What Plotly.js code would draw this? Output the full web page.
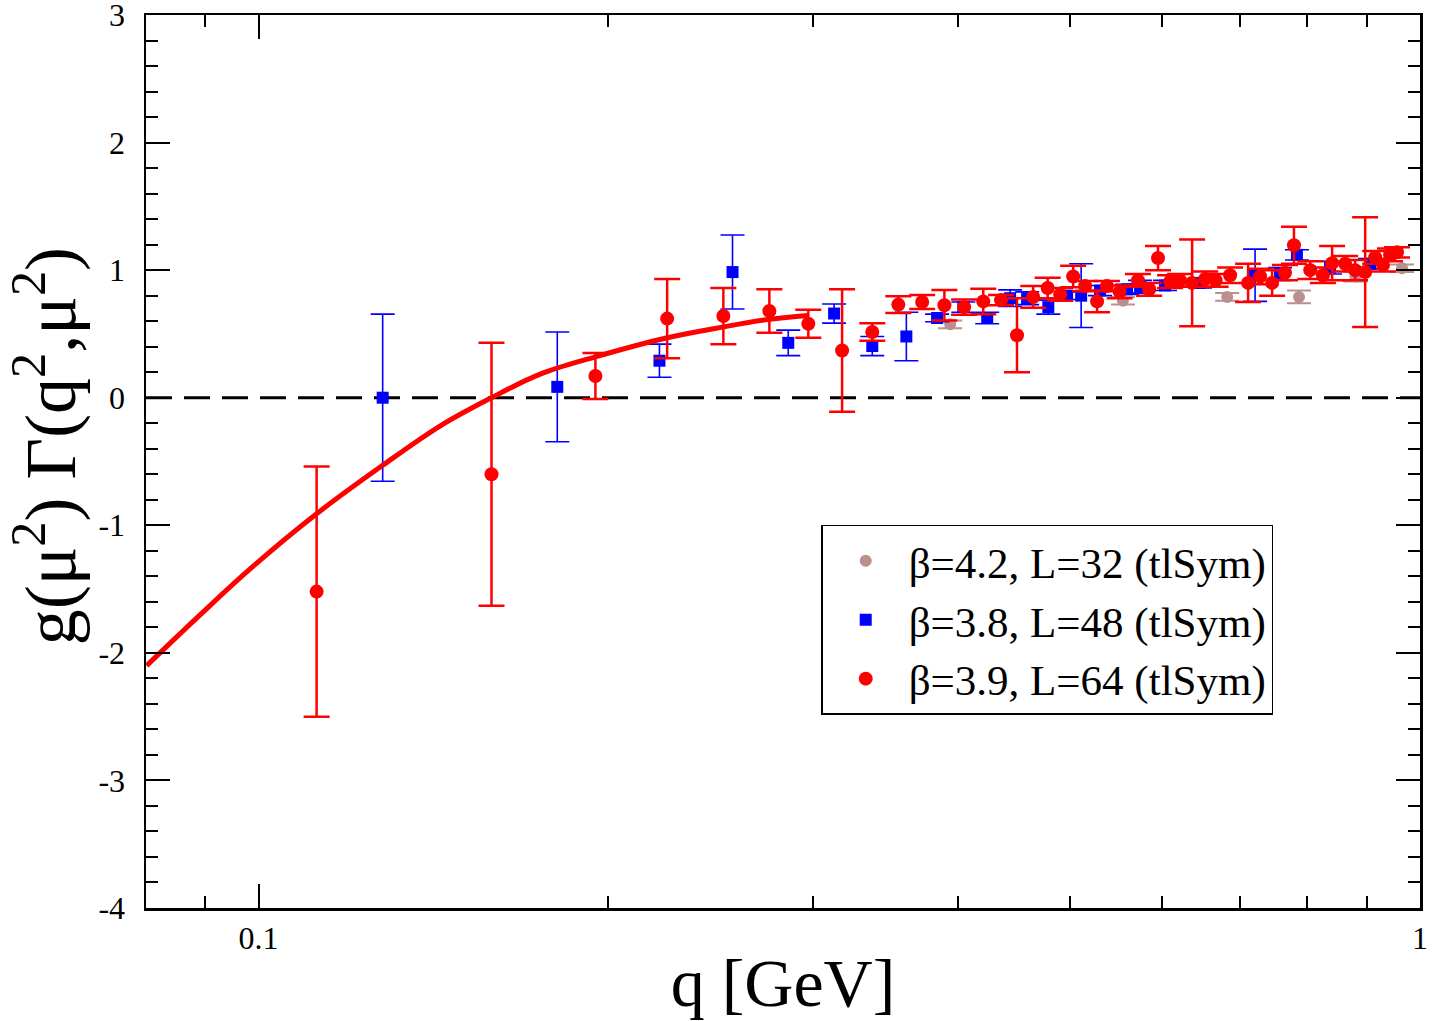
<!DOCTYPE html>
<html>
<head>
<meta charset="utf-8">
<script src="https://cdn.plot.ly/plotly-3.0.1.min.js"></script>
<style>html,body{margin:0;padding:0;background:#fff;}#chart{width:1432px;height:1021px;}</style>
</head>
<body>
<div id="chart"></div>
<script>
// beta=4.2, L=32 (tlSym)
const q42 = [0.394, 0.5549, 0.6823, 0.7867, 0.88, 0.965];
const g42 = [0.575, 0.76, 0.79, 0.79, 0.95, 1.015];
const e42 = [0.03, 0.03, 0.03, 0.05, 0.04, 0.03];

// beta=3.8, L=48 (tlSym)
const q38 = [0.1279, 0.1808, 0.2214, 0.2559, 0.2858, 0.313, 0.3376, 0.3612, 0.3839, 0.4044,
             0.424, 0.4437, 0.4589, 0.4786, 0.4968, 0.5108, 0.5303, 0.5595, 0.5741, 0.6032,
             0.6467, 0.7211, 0.7577, 0.7835, 0.8366, 0.9057];
const g38 = [0.0, 0.085, 0.29, 0.985, 0.43, 0.66, 0.405, 0.48, 0.625, 0.71,
             0.625, 0.78, 0.78, 0.71, 0.80, 0.80, 0.84, 0.85, 0.87, 0.88,
             0.90, 0.96, 0.97, 1.12, 1.02, 1.05];
const e38 = [0.655, 0.43, 0.13, 0.29, 0.10, 0.075, 0.075, 0.19, 0.03, 0.04,
             0.045, 0.065, 0.05, 0.055, 0.03, 0.25, 0.04, 0.04, 0.05, 0.04,
             0.04, 0.205, 0.05, 0.04, 0.05, 0.04];

// beta=3.9, L=64 (tlSym)
const q39 = [0.1122, 0.1587, 0.195, 0.2248, 0.2513, 0.2753, 0.2974, 0.318, 0.3376, 0.3555,
             0.3727, 0.3895, 0.405, 0.4207, 0.4358, 0.4498, 0.4645, 0.478, 0.49, 0.5028,
             0.5149, 0.5272, 0.5376, 0.5513, 0.5717, 0.5845, 0.5949, 0.6093, 0.6215, 0.6365,
             0.6531, 0.6669, 0.6863, 0.7112, 0.7284, 0.7459, 0.7652, 0.7789, 0.8045, 0.8249,
             0.8401, 0.862, 0.8793, 0.897, 0.915, 0.9293, 0.9423, 0.9554];
const g39 = [-1.52, -0.60, 0.17, 0.62, 0.64, 0.68, 0.58, 0.37, 0.515, 0.73,
             0.75, 0.725, 0.71, 0.755, 0.765, 0.49, 0.79, 0.86, 0.81, 0.95,
             0.875, 0.755, 0.875, 0.83, 0.92, 0.85, 1.095, 0.91, 0.92, 0.90,
             0.93, 0.92, 0.96, 0.90, 0.95, 0.90, 0.98, 1.195, 1.0, 0.96,
             1.055, 1.05, 1.0, 0.985, 1.1, 1.04, 1.12, 1.14];
const e39 = [0.98, 1.03, 0.18, 0.31, 0.22, 0.17, 0.11, 0.48, 0.068, 0.065,
             0.055, 0.12, 0.06, 0.10, 0.04, 0.29, 0.085, 0.08, 0.05, 0.085,
             0.04, 0.085, 0.04, 0.05, 0.05, 0.05, 0.095, 0.05, 0.05, 0.34,
             0.06, 0.05, 0.06, 0.15, 0.06, 0.10, 0.06, 0.145, 0.07, 0.06,
             0.135, 0.06, 0.08, 0.43, 0.05, 0.05, 0.05, 0.04];

// fit curve
const qFit = [0.0801, 0.0891, 0.0984, 0.1122, 0.1279, 0.1434, 0.1587, 0.1748, 0.195, 0.2248, 0.2513, 0.2753, 0.2974];
const gFit = [-2.10, -1.70, -1.34, -0.91, -0.53, -0.22, 0.0, 0.185, 0.32, 0.47, 0.555, 0.615, 0.645];

// zero reference line
const qZero = [0.08, 1.0];
const gZero = [0, 0];

// tick values
const xMajor = [0.1, 1];
const xMajorText = ['0.1', '1'];
const xMinor = [0.09, 0.2, 0.3, 0.4, 0.5, 0.6, 0.7, 0.8, 0.9];
const yMajor = [-4, -3, -2, -1, 0, 1, 2, 3];
const yMajorText = ['-4', '-3', '-2', '-1', '0', '1', '2', '3'];

const yTitle = 'g(μ<sup>2</sup>) Γ(q<sup>2</sup>,μ<sup>2</sup>)';
const xTitle = 'q [GeV]';

const SERIF = '"Liberation Serif", "DejaVu Serif", serif';

const traces = [
  {x: qZero, y: gZero, mode: 'lines', showlegend: false, hoverinfo: 'skip',
   line: {color: '#000', width: 3, dash: '26px,12px'}},
  {x: q42, y: g42, mode: 'markers', name: 'β=4.2, L=32 (tlSym)',
   marker: {symbol: 'circle', size: 12, color: '#bc8f8f'},
   error_y: {type: 'data', array: e42, visible: true, color: '#bc8f8f', thickness: 2, width: 12}},
  {x: q38, y: g38, mode: 'markers', name: 'β=3.8, L=48 (tlSym)',
   marker: {symbol: 'square', size: 12, color: '#0000ff'},
   error_y: {type: 'data', array: e38, visible: true, color: '#0000ff', thickness: 1.6, width: 12}},
  {x: q39, y: g39, mode: 'markers', name: 'β=3.9, L=64 (tlSym)',
   marker: {symbol: 'circle', size: 14, color: '#ff0000'},
   error_y: {type: 'data', array: e39, visible: true, color: '#ff0000', thickness: 2.5, width: 13}},
  {x: qFit, y: gFit, mode: 'lines', showlegend: false, hoverinfo: 'skip',
   line: {color: '#ff0000', width: 5, shape: 'spline', smoothing: 1}}
];

const layout = {
  width: 1432, height: 1021,
  margin: {l: 146, r: 12, t: 15, b: 113},
  paper_bgcolor: '#fff', plot_bgcolor: '#fff',
  font: {family: SERIF, color: '#000'},
  showlegend: true,
  legend: {
    x: 0.53, y: 0.429, xanchor: 'left', yanchor: 'top',
    bgcolor: '#fff', bordercolor: '#000', borderwidth: 1.5,
    font: {family: SERIF, size: 43, color: '#000'},
    traceorder: 'normal', itemwidth: 76
  },
  xaxis: {
    type: 'log', range: [Math.log10(0.08), 0],
    tickmode: 'array', tickvals: xMajor, ticktext: xMajorText,
    ticks: 'inside', ticklen: 24, tickwidth: 2, tickcolor: '#000',
    showline: true, linewidth: 2.5, linecolor: '#000', mirror: 'ticks',
    showgrid: false, zeroline: false, ticklabeloverflow: 'allow',
    tickfont: {family: SERIF, size: 32, color: '#000'},
    minor: {tickmode: 'array', tickvals: xMinor, ticks: 'inside', ticklen: 12, tickwidth: 2, tickcolor: '#000', showgrid: false},
    title: {text: xTitle, font: {family: SERIF, size: 68, color: '#000'}, standoff: 12}
  },
  yaxis: {
    range: [-4, 3], tickmode: 'array', tickvals: yMajor, ticktext: yMajorText,
    ticks: 'inside', ticklen: 24, tickwidth: 2, tickcolor: '#000',
    showline: true, linewidth: 2.5, linecolor: '#000', mirror: 'ticks',
    showgrid: false, zeroline: false, ticklabeloverflow: 'allow',
    tickfont: {family: SERIF, size: 32, color: '#000'},
    ticklabelstandoff: 12,
    minor: {tickmode: 'linear', tick0: 0, dtick: 0.2, ticks: 'inside', ticklen: 12, tickwidth: 2, tickcolor: '#000', showgrid: false}
  },
  annotations: [{
    text: yTitle, xref: 'paper', yref: 'paper', x: -0.0793, y: 0.517,
    xanchor: 'center', yanchor: 'middle', textangle: -90, showarrow: false,
    font: {family: SERIF, size: 72, color: '#000'}
  }]
};

Plotly.newPlot('chart', traces, layout, {displayModeBar: false, staticPlot: true});
</script>
</body>
</html>
